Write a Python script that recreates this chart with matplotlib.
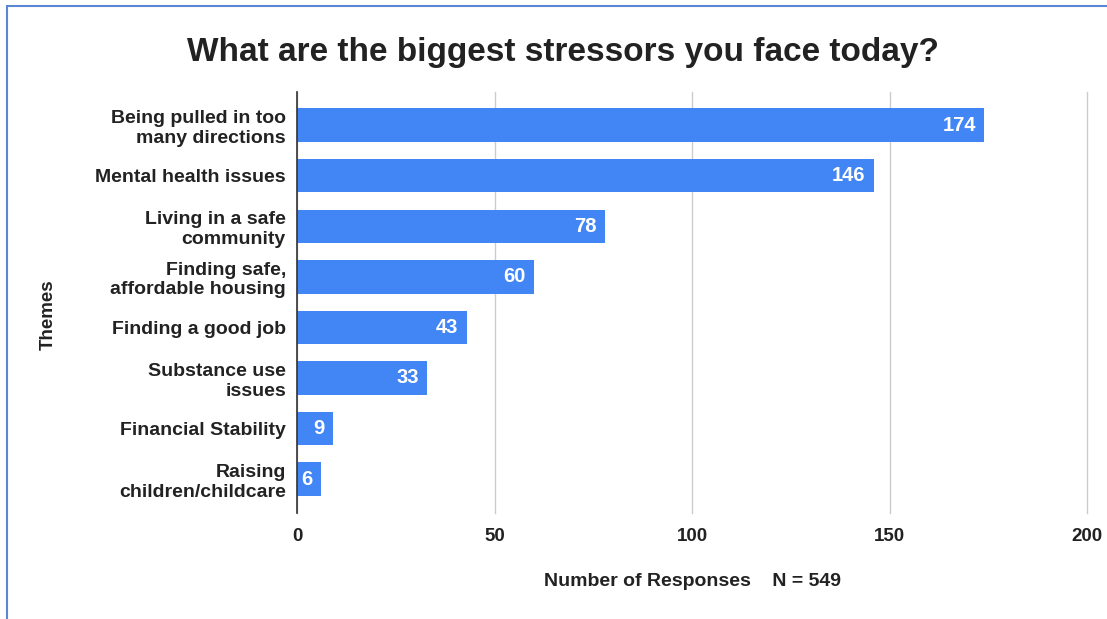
import matplotlib
matplotlib.use("Agg")
import matplotlib.pyplot as plt
from matplotlib.patches import Rectangle
import numpy as np

plt.rcParams['font.family'] = ['Liberation Sans', 'DejaVu Sans']

categories = [
    "Being pulled in too\nmany directions",
    "Mental health issues",
    "Living in a safe\ncommunity",
    "Finding safe,\naffordable housing",
    "Finding a good job",
    "Substance use\nissues",
    "Financial Stability",
    "Raising\nchildren/childcare",
]
responses = [174, 146, 78, 60, 43, 33, 9, 6]
x_ticks = [0, 50, 100, 150, 200]

title = "What are the biggest stressors you face today?"
x_title = "Number of Responses    N = 549"
y_title = "Themes"

W, H = 1107, 619
fig = plt.figure(figsize=(W / 100, H / 100), dpi=100)
fig.patch.set_facecolor("white")

# outer frame
fig.add_artist(Rectangle((7 / W, -0.05), 1.2, (1 - 6 / H) + 0.05,
                         transform=fig.transFigure, fill=False,
                         edgecolor="#5b86d6", linewidth=1.5))

ax = fig.add_axes([297 / W, 1 - 513 / H, (1087 - 297) / W, (513 - 92) / H])

bar_color = "#4285f4"
text_color = "#222222"
y = np.arange(len(categories))
ax.barh(y, responses, height=0.66, color=bar_color, zorder=3)

ax.set_xlim(0, 200)
ax.set_ylim(len(categories) - 1 + 0.67, -0.655)
ax.set_xticks(x_ticks)
ax.set_xticklabels([str(t) for t in x_ticks], fontsize=13.5, fontweight="bold",
                   color=text_color)
ax.set_yticks(y)
ax.set_yticklabels(categories, fontsize=14, fontweight="bold",
                   color=text_color, linespacing=1.2)
ax.tick_params(axis="y", length=0, pad=8)
ax.tick_params(axis="x", length=0, pad=11)

ax.grid(axis="x", color="#cccccc", linewidth=1, zorder=0)
for line in ax.get_xgridlines():
    line.set_clip_on(False)
for s in ["top", "right", "bottom"]:
    ax.spines[s].set_visible(False)
ax.spines["left"].set_color("#333333")
ax.spines["left"].set_linewidth(1.2)
ax.spines["left"].set_zorder(4)

for yi, v in zip(y, responses):
    ax.annotate(str(v), xy=(v, yi), xytext=(-6, 0), textcoords="offset points",
                ha="right", va="center", color="white",
                fontsize=14.5, fontweight="bold", zorder=5)

fig.text(563 / W, 1 - 52 / H, title, ha="center", va="center",
         fontsize=24, fontweight="bold", color=text_color)
fig.text(693 / W, 1 - 582 / H, x_title, ha="center", va="center",
         fontsize=14, fontweight="bold", color=text_color)
fig.text(48 / W, 1 - 315 / H, y_title, ha="center", va="center", rotation=90,
         fontsize=13.5, fontweight="bold", color=text_color)

fig.savefig("out.png", dpi=100)
